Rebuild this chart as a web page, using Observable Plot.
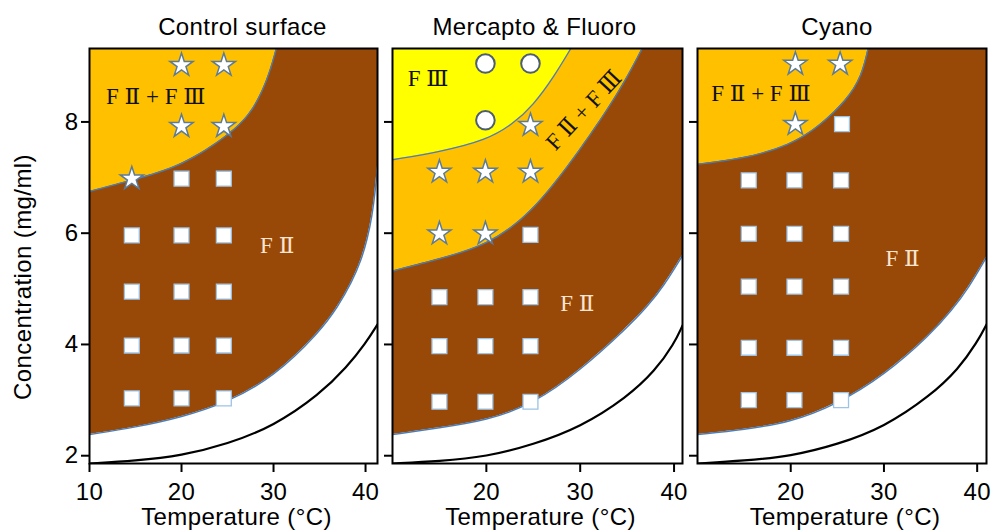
<!DOCTYPE html>
<html><head><meta charset="utf-8">
<script src="https://cdn.jsdelivr.net/npm/d3@7"></script>
<script src="https://cdn.jsdelivr.net/npm/@observablehq/plot@0.6"></script>
<style>
body{margin:0;background:#fff;}
#chart{display:flex;width:995px;height:531px;overflow:hidden;}
#chart svg{overflow:visible;flex:none;}
#chart g[aria-label$="axis tick"]{stroke-width:2px;}
#chart g[aria-label$="tick label"] text{letter-spacing:0.3px;}
#chart .sans text{letter-spacing:0.4px;}
</style></head><body><div id="chart"></div>
<script>
// ---------- data ----------
const titles = ["Control surface", "Mercapto & Fluoro", "Cyano"];
const xLabel = "Temperature (°C)";
const yLabel = "Concentration (mg/ml)";
const xTicksFirst = [10, 20, 30, 40];
const xTicksOther = [20, 30, 40];
const yTicks = [2, 4, 6, 8];
const xDomains = [[10, 41.3], [10, 40.9], [10, 41.0]];
const yDomain = [1.86, 9.32];

// black solubility line
const ctrlBlack  = [[10,1.86],[15,1.91],[20,2.0],[25,2.21],[30,2.53],[35,3.1],[38,3.6],[40,4.02],[41.3,4.36]];
const mercBlack  = [[10,1.86],[15,1.9],[20,1.98],[25,2.2],[30,2.51],[35,3.05],[38,3.53],[40,4.01],[40.9,4.34]];
const cyanoBlack = [[10,1.86],[15,1.91],[20,1.99],[25,2.2],[30,2.51],[35,3.08],[38,3.56],[40,4.04],[41,4.36]];

// lower boundary of F II region
const ctrlLow  = [[10,2.38],[15,2.51],[20,2.69],[25,2.96],[30,3.41],[35,4.22],[37,4.68],[38.5,5.12],[39.5,5.5],[40.2,5.9],[40.7,6.3],[41.05,6.75],[41.3,7.2]];
const mercLow  = [[10,2.38],[15,2.5],[20,2.63],[25,2.93],[30,3.53],[35,4.3],[37.1,4.67],[38.9,5.05],[40.9,5.6]];
const cyanoLow = [[10,2.38],[15,2.47],[20,2.6],[25,2.93],[30,3.44],[35,4.18],[37.3,4.62],[39.1,5.02],[41,5.57]];

// lower boundary of F II + F III region
const ctrlMix  = [[10,6.75],[15,6.97],[20,7.2],[25.4,7.79],[27.5,8.15],[28.8,8.55],[29.7,8.95],[30.3,9.32]];
const mercMix  = [[10,5.32],[15.1,5.54],[20,5.78],[24.7,6.32],[30,7.49],[34.3,8.57],[36.6,9.32]];
const cyanoMix = [[10,7.24],[15,7.34],[20,7.58],[23.2,7.94],[26,8.39],[27.6,8.81],[28.3,9.32]];

// lower boundary of F III region
const mercF3 = [[10,7.32],[15,7.46],[20,7.67],[22.9,7.97],[25,8.3],[27.2,8.81],[29,9.32]];

// experimental points
const ctrlStars = [[20,9.02],[24.6,9.02],[20,7.92],[24.6,7.92],[14.6,6.98]];
const ctrlSquares = [[20,6.98],[24.6,6.98],[14.6,5.96],[20,5.96],[24.6,5.96],[14.6,4.95],[20,4.95],[24.6,4.95],[14.6,3.98],[20,3.98],[24.6,3.98],[14.6,3.03],[20,3.03],[24.6,3.03]];
const mercCircles = [[19.9,9.05],[24.7,9.05],[19.9,8.03]];
const mercStars = [[24.7,7.94],[15,7.1],[19.9,7.1],[24.7,7.1],[15,5.99],[19.9,5.99]];
const mercSquares = [[24.7,5.97],[15,4.85],[19.9,4.85],[24.7,4.85],[15,3.97],[19.9,3.97],[24.7,3.97],[15,2.97],[19.9,2.97],[24.7,2.97]];
const cyanoStars = [[20.5,9.04],[25.3,9.04],[20.5,7.96]];
const cyanoSquares = [[25.5,7.96],[15.5,6.95],[20.4,6.95],[25.4,6.95],[15.5,5.99],[20.4,5.99],[25.4,5.99],[15.5,5.04],[20.4,5.04],[25.4,5.04],[15.5,3.94],[20.4,3.94],[25.4,3.94],[15.5,3.0],[20.4,3.0],[25.4,3.0]];

// region labels
const ctrlText  = [{t:"F Ⅱ + F Ⅲ", x:17.2, y:8.45, c:"dark", r:0}, {t:"F Ⅱ", x:30.4, y:5.78, c:"light", r:0}];
const mercText  = [{t:"F Ⅲ", x:13.8, y:8.78, c:"dark", r:0}, {t:"F Ⅱ + F Ⅲ", x:30.4, y:8.21, c:"dark", r:-47}, {t:"F Ⅱ", x:29.7, y:4.73, c:"light", r:0}];
const cyanoText = [{t:"F Ⅱ + F Ⅲ", x:16.8, y:8.51, c:"dark", r:0}, {t:"F Ⅱ", x:32.0, y:5.55, c:"light", r:0}];

// ---------- styling ----------
const BROWN = "#984807", ORANGE = "#FFC000", YELLOW = "#FFFF00";
const EDGE = "#4a7ebb";
const CURVE = "basis";
const panels = [
  {black: ctrlBlack, low: ctrlLow, mix: ctrlMix, f3: null, stars: ctrlStars, squares: ctrlSquares, circles: [], text: ctrlText,
   width: 385, ml: 89, mr: 8, titleDx: 9, xTicks: xTicksFirst},
  {black: mercBlack, low: mercLow, mix: mercMix, f3: mercF3, stars: mercStars, squares: mercSquares, circles: mercCircles, text: mercText,
   width: 305, ml: 7, mr: 8, titleDx: -3, xTicks: xTicksOther},
  {black: cyanoBlack, low: cyanoLow, mix: cyanoMix, f3: null, stars: cyanoStars, squares: cyanoSquares, circles: [], text: cyanoText,
   width: 305, ml: 7, mr: 9, titleDx: -5, xTicks: xTicksOther}
];

const X = d => d[0], Y = d => d[1];
const TOP = () => yDomain[1];
const SERIF = "'Liberation Serif', 'DejaVu Serif', serif";

function makePanel(i) {
  const p = panels[i];
  const marks = [
    Plot.areaY(p.low, {x: X, y1: Y, y2: TOP, fill: BROWN, curve: CURVE, clip: true}),
    Plot.areaY(p.mix, {x: X, y1: Y, y2: TOP, fill: ORANGE, curve: CURVE, clip: true}),
  ];
  if (p.f3) marks.push(Plot.areaY(p.f3, {x: X, y1: Y, y2: TOP, fill: YELLOW, curve: CURVE, clip: true}));
  marks.push(
    Plot.line(p.low, {x: X, y: Y, stroke: EDGE, strokeWidth: 1.5, curve: CURVE, clip: true}),
    Plot.line(p.mix, {x: X, y: Y, stroke: EDGE, strokeWidth: 1.3, curve: CURVE, clip: true})
  );
  if (p.f3) marks.push(Plot.line(p.f3, {x: X, y: Y, stroke: EDGE, strokeWidth: 1.3, curve: CURVE, clip: true}));
  marks.push(
    Plot.line(p.black, {x: X, y: Y, stroke: "black", strokeWidth: 2.2, curve: CURVE, clip: true}),
    Plot.dot(p.squares, {x: X, y: Y, symbol: "square", r: 8.4, fill: "white", stroke: "#9dc3e6", strokeWidth: 1.3}),
    Plot.dot(p.stars, {x: X, y: Y, symbol: "star", r: 7.3, fill: "white", stroke: "#5b7b9b", strokeWidth: 1.5}),
    Plot.dot(p.circles, {x: X, y: Y, symbol: "circle", r: 9.3, fill: "white", stroke: "#4d5d75", strokeWidth: 2}),
    Plot.text(p.text, {x: "x", y: "y", text: "t", rotate: "r", fill: d => d.c === "dark" ? "#111" : "#fbe4cf",
      fontSize: 23, fontFamily: SERIF, lineAnchor: "middle"}),
    Plot.frame({stroke: "black", strokeWidth: 2}),
    Plot.text([titles[i]], {frameAnchor: "top", lineAnchor: "middle", textAnchor: "middle", dy: -21, dx: p.titleDx, fontSize: 24, fill: "black", className: "sans"}),
    Plot.text([xLabel], {frameAnchor: "bottom", lineAnchor: "middle", textAnchor: "middle", dy: 54, dx: 3, fontSize: 24, fill: "black", className: "sans"})
  );
  if (i === 0) marks.push(Plot.text([yLabel], {frameAnchor: "left", lineAnchor: "middle", textAnchor: "middle", rotate: -90, dx: -66, dy: 21, fontSize: 24, fill: "black", className: "sans"}));
  return Plot.plot({
    width: p.width, height: 531,
    marginLeft: p.ml, marginRight: p.mr, marginTop: 48, marginBottom: 68,
    style: {fontSize: "24px", fontFamily: "'Liberation Sans', Arial, sans-serif", background: "white", color: "black", overflow: "visible"},
    x: {domain: xDomains[i], ticks: p.xTicks, tickSize: 9, tickPadding: 10, label: null},
    y: {domain: yDomain, ticks: yTicks, tickSize: 8, tickPadding: 3, label: null,
        tickFormat: i === 0 ? (d => String(d)) : (() => "")},
    marks
  });
}

const root = document.getElementById("chart");
for (let i = 0; i < 3; i++) root.appendChild(makePanel(i));
</script></body></html>
